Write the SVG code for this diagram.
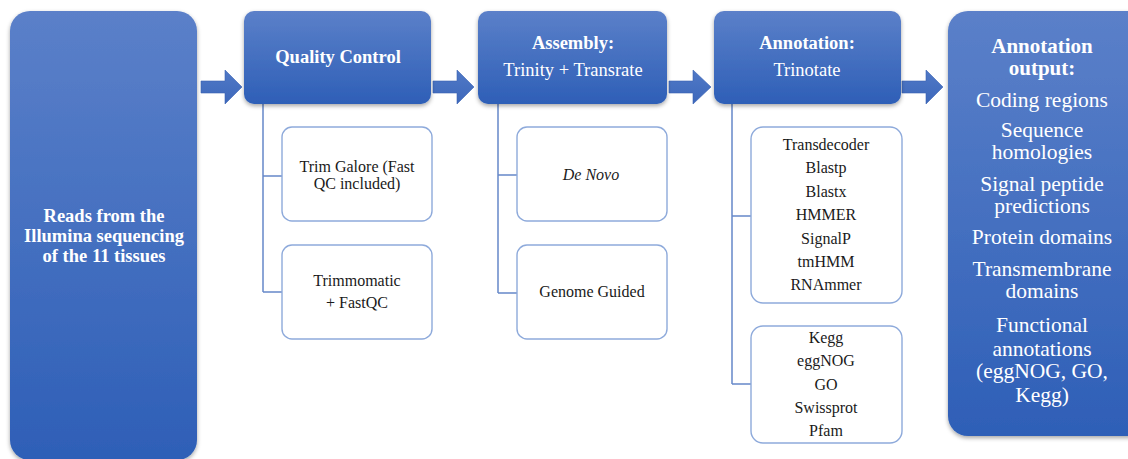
<svg xmlns="http://www.w3.org/2000/svg" width="1128" height="459" viewBox="0 0 1128 459" font-family="'Liberation Serif', 'Times New Roman', Tinos, 'DejaVu Serif', serif">
<defs>
<linearGradient id="blueGrad" x1="0" y1="0" x2="0" y2="1">
<stop offset="0" stop-color="#5b80c9"/>
<stop offset="1" stop-color="#2e5fb7"/>
</linearGradient>
<linearGradient id="arrowGrad" x1="0" y1="0" x2="0" y2="1">
<stop offset="0" stop-color="#5079c6"/>
<stop offset="1" stop-color="#3d68bb"/>
</linearGradient>
<filter id="shadow" x="-10%" y="-10%" width="120%" height="120%">
<feDropShadow dx="0" dy="2" stdDeviation="2" flood-color="#000" flood-opacity="0.35"/>
</filter>
</defs>
<style>
.main{fill:url(#blueGrad);filter:url(#shadow);}
.sub{fill:#ffffff;stroke:#8eaadb;stroke-width:1.4;}
.arrow{fill:url(#arrowGrad);stroke:#3a63b3;stroke-width:0.6;}
.conn{fill:none;stroke:#6688c9;stroke-width:1.5;}
text{font-family:'Liberation Serif','Times New Roman',Tinos,'DejaVu Serif',serif;}
.hb{font-weight:bold;fill:#ffffff;text-anchor:middle;}
.hr{fill:#ffffff;text-anchor:middle;}
.st{fill:#1a1a1a;text-anchor:middle;}
</style>
<rect width="1128" height="459" fill="#ffffff"/>

<g id="connectors">
<path class="conn" d="M263,104 V292 M263,176 H282 M263,292 H282"/>
<path class="conn" d="M498,104 V293 M498,175 H517 M498,293 H517"/>
<path class="conn" d="M732,104 V384 M732,216 H751 M732,384 H751"/>
<polygon class="arrow" points="201,81 225,81 225,70 242,87 225,104 225,93 201,93"/>
<polygon class="arrow" points="433,81 457,81 457,70 474,87 457,104 457,93 433,93"/>
<polygon class="arrow" points="669,81 693,81 693,70 711,87 693,104 693,93 669,93"/>
<polygon class="arrow" points="902,81 926,81 926,70 943,87 926,104 926,93 902,93"/>
</g>

<g id="reads">
<rect class="main" x="10" y="11" width="187" height="449" rx="20"/>
<text class="hb" font-size="18.5" x="104" y="222">Reads from the</text>
<text class="hb" font-size="18.5" x="104" y="242">Illumina sequencing</text>
<text class="hb" font-size="18.5" x="104" y="262">of the 11 tissues</text>
</g>

<g id="qc">
<rect class="main" x="244" y="11" width="187" height="93" rx="10"/>
<text class="hb" font-size="18.5" x="338" y="63">Quality Control</text>
</g>

<g id="assembly">
<rect class="main" x="478" y="11" width="189" height="93" rx="10"/>
<text class="hb" font-size="18.5" x="573" y="49">Assembly:</text>
<text class="hr" font-size="18.5" x="573" y="76">Trinity + Transrate</text>
</g>

<g id="annotation">
<rect class="main" x="714" y="11" width="187" height="93" rx="10"/>
<text class="hb" font-size="18.5" x="807" y="49">Annotation:</text>
<text class="hr" font-size="18.5" x="807" y="76">Trinotate</text>
</g>

<g id="output">
<rect class="main" x="948" y="11" width="200" height="425" rx="20"/>
<text class="hb" font-size="21" x="1042" y="53">Annotation</text>
<text class="hb" font-size="21" x="1042" y="75">output:</text>
<text class="hr" font-size="21.5" x="1042" y="107">Coding regions</text>
<text class="hr" font-size="21.5" x="1042" y="137">Sequence</text>
<text class="hr" font-size="21.5" x="1042" y="159">homologies</text>
<text class="hr" font-size="21.5" x="1042" y="191">Signal peptide</text>
<text class="hr" font-size="21.5" x="1042" y="213">predictions</text>
<text class="hr" font-size="21.5" x="1042" y="244">Protein domains</text>
<text class="hr" font-size="21.5" x="1042" y="276">Transmembrane</text>
<text class="hr" font-size="21.5" x="1042" y="298">domains</text>
<text class="hr" font-size="21.5" x="1042" y="332">Functional</text>
<text class="hr" font-size="21.5" x="1042" y="356">annotations</text>
<text class="hr" font-size="21.5" x="1042" y="378">(eggNOG, GO,</text>
<text class="hr" font-size="21.5" x="1042" y="402">Kegg)</text>
</g>

<g id="trimgalore">
<rect class="sub" x="282" y="127" width="150" height="94" rx="10"/>
<text class="st" font-size="16" x="357" y="172">Trim Galore (Fast</text>
<text class="st" font-size="16" x="357" y="189">QC included)</text>
</g>

<g id="trimmomatic">
<rect class="sub" x="282" y="245" width="150" height="94" rx="10"/>
<text class="st" font-size="16" x="357" y="286">Trimmomatic</text>
<text class="st" font-size="16" x="357" y="308">+ FastQC</text>
</g>

<g id="denovo">
<rect class="sub" x="517" y="127" width="150" height="94" rx="10"/>
<text class="st" font-size="16" font-style="italic" x="591" y="180">De Novo</text>
</g>

<g id="genomeguided">
<rect class="sub" x="517" y="245" width="150" height="94" rx="10"/>
<text class="st" font-size="16" x="592" y="297">Genome Guided</text>
</g>

<g id="tools">
<rect class="sub" x="751" y="127" width="151" height="176" rx="12"/>
<text class="st" font-size="16" x="826" y="150">Transdecoder</text>
<text class="st" font-size="16" x="826" y="173">Blastp</text>
<text class="st" font-size="16" x="826" y="197">Blastx</text>
<text class="st" font-size="16" x="826" y="220">HMMER</text>
<text class="st" font-size="16" x="826" y="244">SignalP</text>
<text class="st" font-size="16" x="826" y="267">tmHMM</text>
<text class="st" font-size="16" x="826" y="290">RNAmmer</text>
</g>

<g id="databases">
<rect class="sub" x="751" y="326" width="151" height="117" rx="12"/>
<text class="st" font-size="16" x="826" y="343">Kegg</text>
<text class="st" font-size="16" x="826" y="366">eggNOG</text>
<text class="st" font-size="16" x="826" y="390">GO</text>
<text class="st" font-size="16" x="826" y="413">Swissprot</text>
<text class="st" font-size="16" x="826" y="436">Pfam</text>
</g>
</svg>
